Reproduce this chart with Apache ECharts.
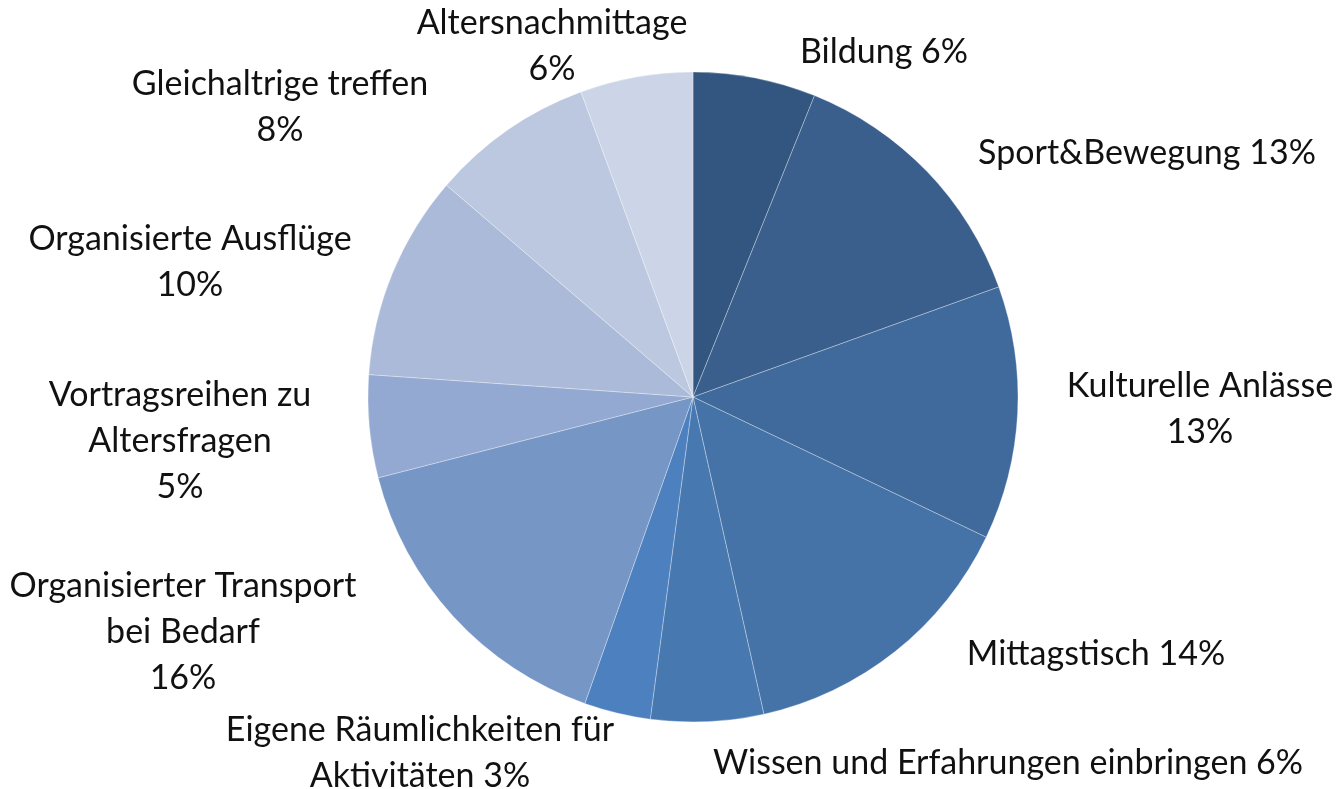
<!DOCTYPE html>
<html><head><meta charset="utf-8">
<script src="https://cdn.jsdelivr.net/npm/echarts@6/dist/echarts.min.js"></script>
<style>html,body{margin:0;padding:0;background:#fff}#c{width:1340px;height:789px}</style>
</head><body><div id="c"></div>
<script>
const categories = ['Bildung','Sport&Bewegung','Kulturelle Anlässe','Mittagstisch','Wissen und Erfahrungen einbringen','Eigene Räumlichkeiten für Aktivitäten','Organisierter Transport bei Bedarf','Vortragsreihen zu Altersfragen','Organisierte Ausflüge','Gleichaltrige treffen','Altersnachmittage'];
const values = [6.1, 13.4, 12.6, 14.4, 5.6, 3.3, 15.6, 5.1, 10.2, 8.1, 5.6];
const labelLines = ['Bildung','Sport&Bewegung','Kulturelle Anlässe','Mittagstisch','Wissen und Erfahrungen einbringen','Eigene Räumlichkeiten für\nAktivitäten','Organisierter Transport\nbei Bedarf','Vortragsreihen zu\nAltersfragen','Organisierte Ausflüge','Gleichaltrige treffen','Altersnachmittage'];
const pctSep = [' ',' ','\n',' ',' ',' ','\n','\n','\n','\n','\n'];
const colors = ['#32567f','#3a5f8d','#3f6a9b','#4573a7','#4878b0','#4d80be','#7696c6','#94a9d1','#abbad8','#bcc8e0','#ccd5e7'];
const labelAnchors = [[884,52],[1147,153],[1200,409],[1096,654],[1008,763],[420,753],[183,632],[180,441],[190,262],[280,107],[552,46]];

const chart = echarts.init(document.getElementById('c'));
chart.setOption({
  animation: false,
  series: [{
    type: 'pie',
    center: [693, 397],
    radius: 325,
    startAngle: 90,
    clockwise: true,
    data: categories.map((n, i) => ({name: n, value: values[i], itemStyle: {color: colors[i]}})),
    itemStyle: {borderColor: 'rgba(255,255,255,0.3)', borderWidth: 1},
    label: {
      show: true,
      position: 'outside',
      formatter: p => labelLines[p.dataIndex] + pctSep[p.dataIndex] + Math.round(p.percent) + '%',
      fontFamily: 'Lato, sans-serif',
      fontSize: 34,
      lineHeight: 46,
      color: '#111',
      align: 'center',
      overflow: 'none',
      width: 700
    },
    labelLine: {show: false},
    labelLayout: p => ({x: labelAnchors[p.dataIndex][0], y: labelAnchors[p.dataIndex][1], align: 'center', verticalAlign: 'middle', hideOverlap: false, moveOverlap: false}),
    emphasis: {disabled: true}
  }]
});
</script></body></html>
